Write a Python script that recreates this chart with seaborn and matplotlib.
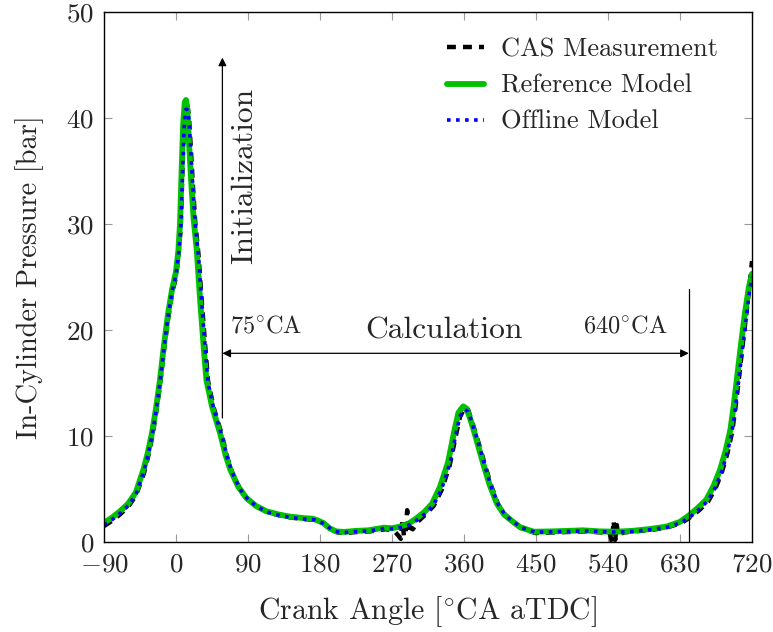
import matplotlib
matplotlib.use("Agg")
import matplotlib.pyplot as plt
import seaborn as sns
import pandas as pd

# ---- data ----
ref_angle = [-90, -80, -70, -60, -50, -40, -35, -30, -25, -20, -15, -10, -5, 0, 3, 5, 7, 9, 11, 12.5,
             14, 16, 19, 22, 26, 30, 35, 38, 45, 55, 62, 68, 78, 88, 100, 113, 128, 142, 160, 171,
             178, 184, 192, 200, 210, 225, 240, 260, 270, 280, 290, 300, 310, 320, 330, 340, 348,
             353, 359, 363, 367, 372, 378, 384, 392, 401, 410, 418, 430, 447, 470, 490, 509, 530,
             551, 570, 590, 613, 630, 642, 652, 663, 672, 680, 687, 693, 697, 701, 706, 711, 716, 720]
ref_p = [1.8, 2.3, 2.9, 3.6, 4.7, 7.0, 8.5, 10.3, 12.6, 15.3, 18.6, 21.5, 23.8, 25.5, 27.5, 30.0, 35.0,
         39.5, 41.5, 41.7, 41.0, 38.0, 34.0, 30.5, 27.5, 23.0, 18.0, 15.3, 12.8, 10.3, 8.2, 6.8, 5.2,
         4.15, 3.4, 2.9, 2.6, 2.4, 2.25, 2.2, 2.0, 1.8, 1.3, 1.0, 0.95, 1.05, 1.1, 1.35, 1.3, 1.45,
         1.7, 2.2, 2.8, 3.6, 5.2, 7.5, 10.5, 12.2, 12.8, 12.6, 11.8, 10.6, 9.0, 7.4, 5.4, 3.65, 2.6,
         2.1, 1.4, 0.97, 1.0, 1.05, 1.1, 1.0, 0.97, 1.05, 1.2, 1.45, 1.9, 2.55, 3.2, 4.0, 5.3, 6.8,
         8.6, 10.6, 12.8, 15.3, 18.5, 21.5, 24.0, 25.3]

off_angle = [-90, -80, -70, -60, -50, -40, -35, -30, -25, -20, -15, -10, -5, 0, 3, 6, 8, 10, 12, 14,
             16, 18, 21, 24, 28, 32, 37, 40, 47, 57, 64, 70, 80, 90, 102, 115, 130, 144, 162, 173,
             180, 186, 194, 202, 212, 227, 242, 262, 272, 282, 292, 302, 312, 322, 332, 342, 350,
             355, 361, 365, 369, 374, 380, 386, 394, 403, 412, 420, 432, 449, 472, 492, 511, 532,
             553, 572, 592, 615, 632, 644, 654, 665, 674, 682, 689, 695, 699, 703, 708, 713, 717, 720]
off_p = [1.6, 2.1, 2.7, 3.4, 4.5, 6.7, 8.2, 10.0, 12.3, 15.0, 18.3, 21.2, 23.6, 25.2, 27.0, 29.5, 34.5,
         39.0, 40.8, 40.8, 40.0, 37.5, 33.5, 30.0, 27.0, 22.7, 17.8, 15.0, 12.6, 10.1, 8.0, 6.6, 5.0,
         4.0, 3.3, 2.8, 2.5, 2.3, 2.15, 2.1, 1.9, 1.7, 1.2, 0.95, 0.9, 1.0, 1.05, 1.3, 1.25, 1.4,
         1.65, 2.1, 2.7, 3.5, 5.0, 7.3, 10.2, 11.9, 12.5, 12.3, 11.5, 10.3, 8.8, 7.2, 5.2, 3.5, 2.5,
         2.0, 1.35, 0.93, 0.97, 1.0, 1.05, 0.97, 0.93, 1.0, 1.15, 1.4, 1.85, 2.45, 3.1, 3.9, 5.1, 6.6,
         8.4, 10.4, 12.5, 15.0, 18.2, 21.2, 23.8, 25.0]

cas_angle = [-90, -80, -70, -60, -50, -40, -35, -30, -25, -20, -15, -10, -5, 0, 3, 6, 8, 10, 12, 14,
             16, 18, 21, 24, 28, 32, 37, 40, 47, 57, 64, 70, 80, 90, 102, 115, 130, 144, 162, 173,
             180, 186, 194, 202, 212, 227, 242, 262, 272, 278, 281, 283, 285, 287, 289, 291, 293,
             296, 302, 312, 322, 332, 342, 350, 355, 361, 365, 369, 374, 380, 386, 394, 403, 412,
             420, 432, 449, 472, 492, 511, 532, 542, 545, 547, 549, 551, 553, 556, 560, 572, 592,
             615, 632, 644, 654, 665, 674, 682, 689, 695, 699, 703, 708, 713, 717, 720]
cas_p = [1.5, 2.0, 2.6, 3.3, 4.4, 6.5, 8.0, 9.8, 12.1, 14.8, 18.1, 21.0, 23.4, 25.0, 27.0, 29.8, 35.0,
         39.8, 41.6, 41.3, 40.3, 37.8, 33.8, 30.2, 27.2, 22.9, 18.0, 15.2, 12.7, 10.2, 8.0, 6.6, 5.0,
         4.0, 3.3, 2.8, 2.5, 2.3, 2.15, 2.1, 1.9, 1.7, 1.2, 0.9, 0.85, 0.95, 1.0, 1.2, 1.1, 0.6,
         0.3, 2.0, 0.5, 0.9, 3.0, 0.8, 1.4, 1.2, 1.9, 2.6, 3.4, 4.9, 7.2, 10.1, 11.8, 12.7, 12.5,
         11.6, 10.4, 8.9, 7.3, 5.3, 3.5, 2.5, 2.0, 1.3, 0.85, 0.9, 0.95, 1.0, 0.9, 0.85, 0.0, 2.0,
         0.2, 1.6, 0.5, 0.8, 0.9, 1.0, 1.1, 1.4, 1.8, 2.4, 3.0, 3.8, 5.0, 6.5, 8.3, 10.3, 12.5, 15.0,
         18.4, 21.6, 24.3, 26.5]

x_ticks = [-90, 0, 90, 180, 270, 360, 450, 540, 630, 720]
y_ticks = [0, 10, 20, 30, 40, 50]

init_x = 58
calc_end_x = 641

# ---- style ----
sns.set_style("ticks")
plt.rcParams["font.family"] = ["cmr10", "DejaVu Serif"]
plt.rcParams["mathtext.fontset"] = "cm"
plt.rcParams["axes.formatter.use_mathtext"] = True
plt.rcParams["axes.unicode_minus"] = True

fig = plt.figure(figsize=(7.73, 6.32), dpi=100)
ax = fig.add_axes([104 / 773, 1 - 542 / 632, (752 - 104) / 773, (542 - 12) / 632])

cas = pd.DataFrame({"angle": cas_angle, "p": cas_p})
ref = pd.DataFrame({"angle": ref_angle, "p": ref_p})
off = pd.DataFrame({"angle": off_angle, "p": off_p})

sns.lineplot(data=cas, x="angle", y="p", ax=ax, color="black", lw=3.2,
             linestyle=(0, (2.0, 1.6)), label="CAS Measurement", sort=False, estimator=None)
sns.lineplot(data=ref, x="angle", y="p", ax=ax, color="#00c000", lw=4.2,
             label="Reference Model", sort=False, estimator=None)
sns.lineplot(data=off, x="angle", y="p", ax=ax, color="#0000ff", lw=2.6,
             linestyle=(0, (1.0, 1.5)), label="Offline Model", sort=False, estimator=None)

ax.set_xlim(-90, 720)
ax.set_ylim(0, 50)
ax.set_xticks(x_ticks)
ax.set_yticks(y_ticks)
ax.tick_params(direction="in", top=True, right=True, length=6, width=0.8,
               color="#999999", labelsize=19.5)
ax.tick_params(axis="x", pad=7.5)
ax.tick_params(axis="y", pad=7)
for s in ax.spines.values():
    s.set_linewidth(1.0)
    s.set_color("black")

ax.set_xlabel(r"Crank Angle [$^{\circ}$CA aTDC]", fontsize=21.5, labelpad=13)
ax.set_ylabel("In-Cylinder Pressure [bar]", fontsize=20.5, labelpad=16)

# annotations
ax.annotate("", xy=(init_x, 45.7), xytext=(init_x, 11.7),
            arrowprops=dict(arrowstyle="-|>", color="black", lw=0.9,
                            mutation_scale=12, shrinkA=0, shrinkB=0))
ax.plot([calc_end_x, calc_end_x], [0, 23.9], color="black", lw=0.9)
ax.annotate("", xy=(init_x, 17.8), xytext=(calc_end_x, 17.8),
            arrowprops=dict(arrowstyle="<|-|>", color="black", lw=0.9,
                            mutation_scale=12, shrinkA=0, shrinkB=0))
ax.text(86, 34.5, "Initialization", rotation=90, ha="center", va="center", fontsize=22.7)
ax.text(335, 19.9, "Calculation", ha="center", va="center", fontsize=22.7)
ax.text(68, 20.3, r"75$^{\circ}$CA", ha="left", va="center", fontsize=17.5)
ax.text(615, 20.3, r"640$^{\circ}$CA", ha="right", va="center", fontsize=17.5)

leg = ax.legend(loc="upper right", frameon=False, fontsize=19, handlelength=1.4,
                borderaxespad=0.0, labelspacing=0.47, handletextpad=0.65,
                borderpad=0.0, bbox_to_anchor=(0.947, 0.951))

fig.savefig("out.png", dpi=100)
